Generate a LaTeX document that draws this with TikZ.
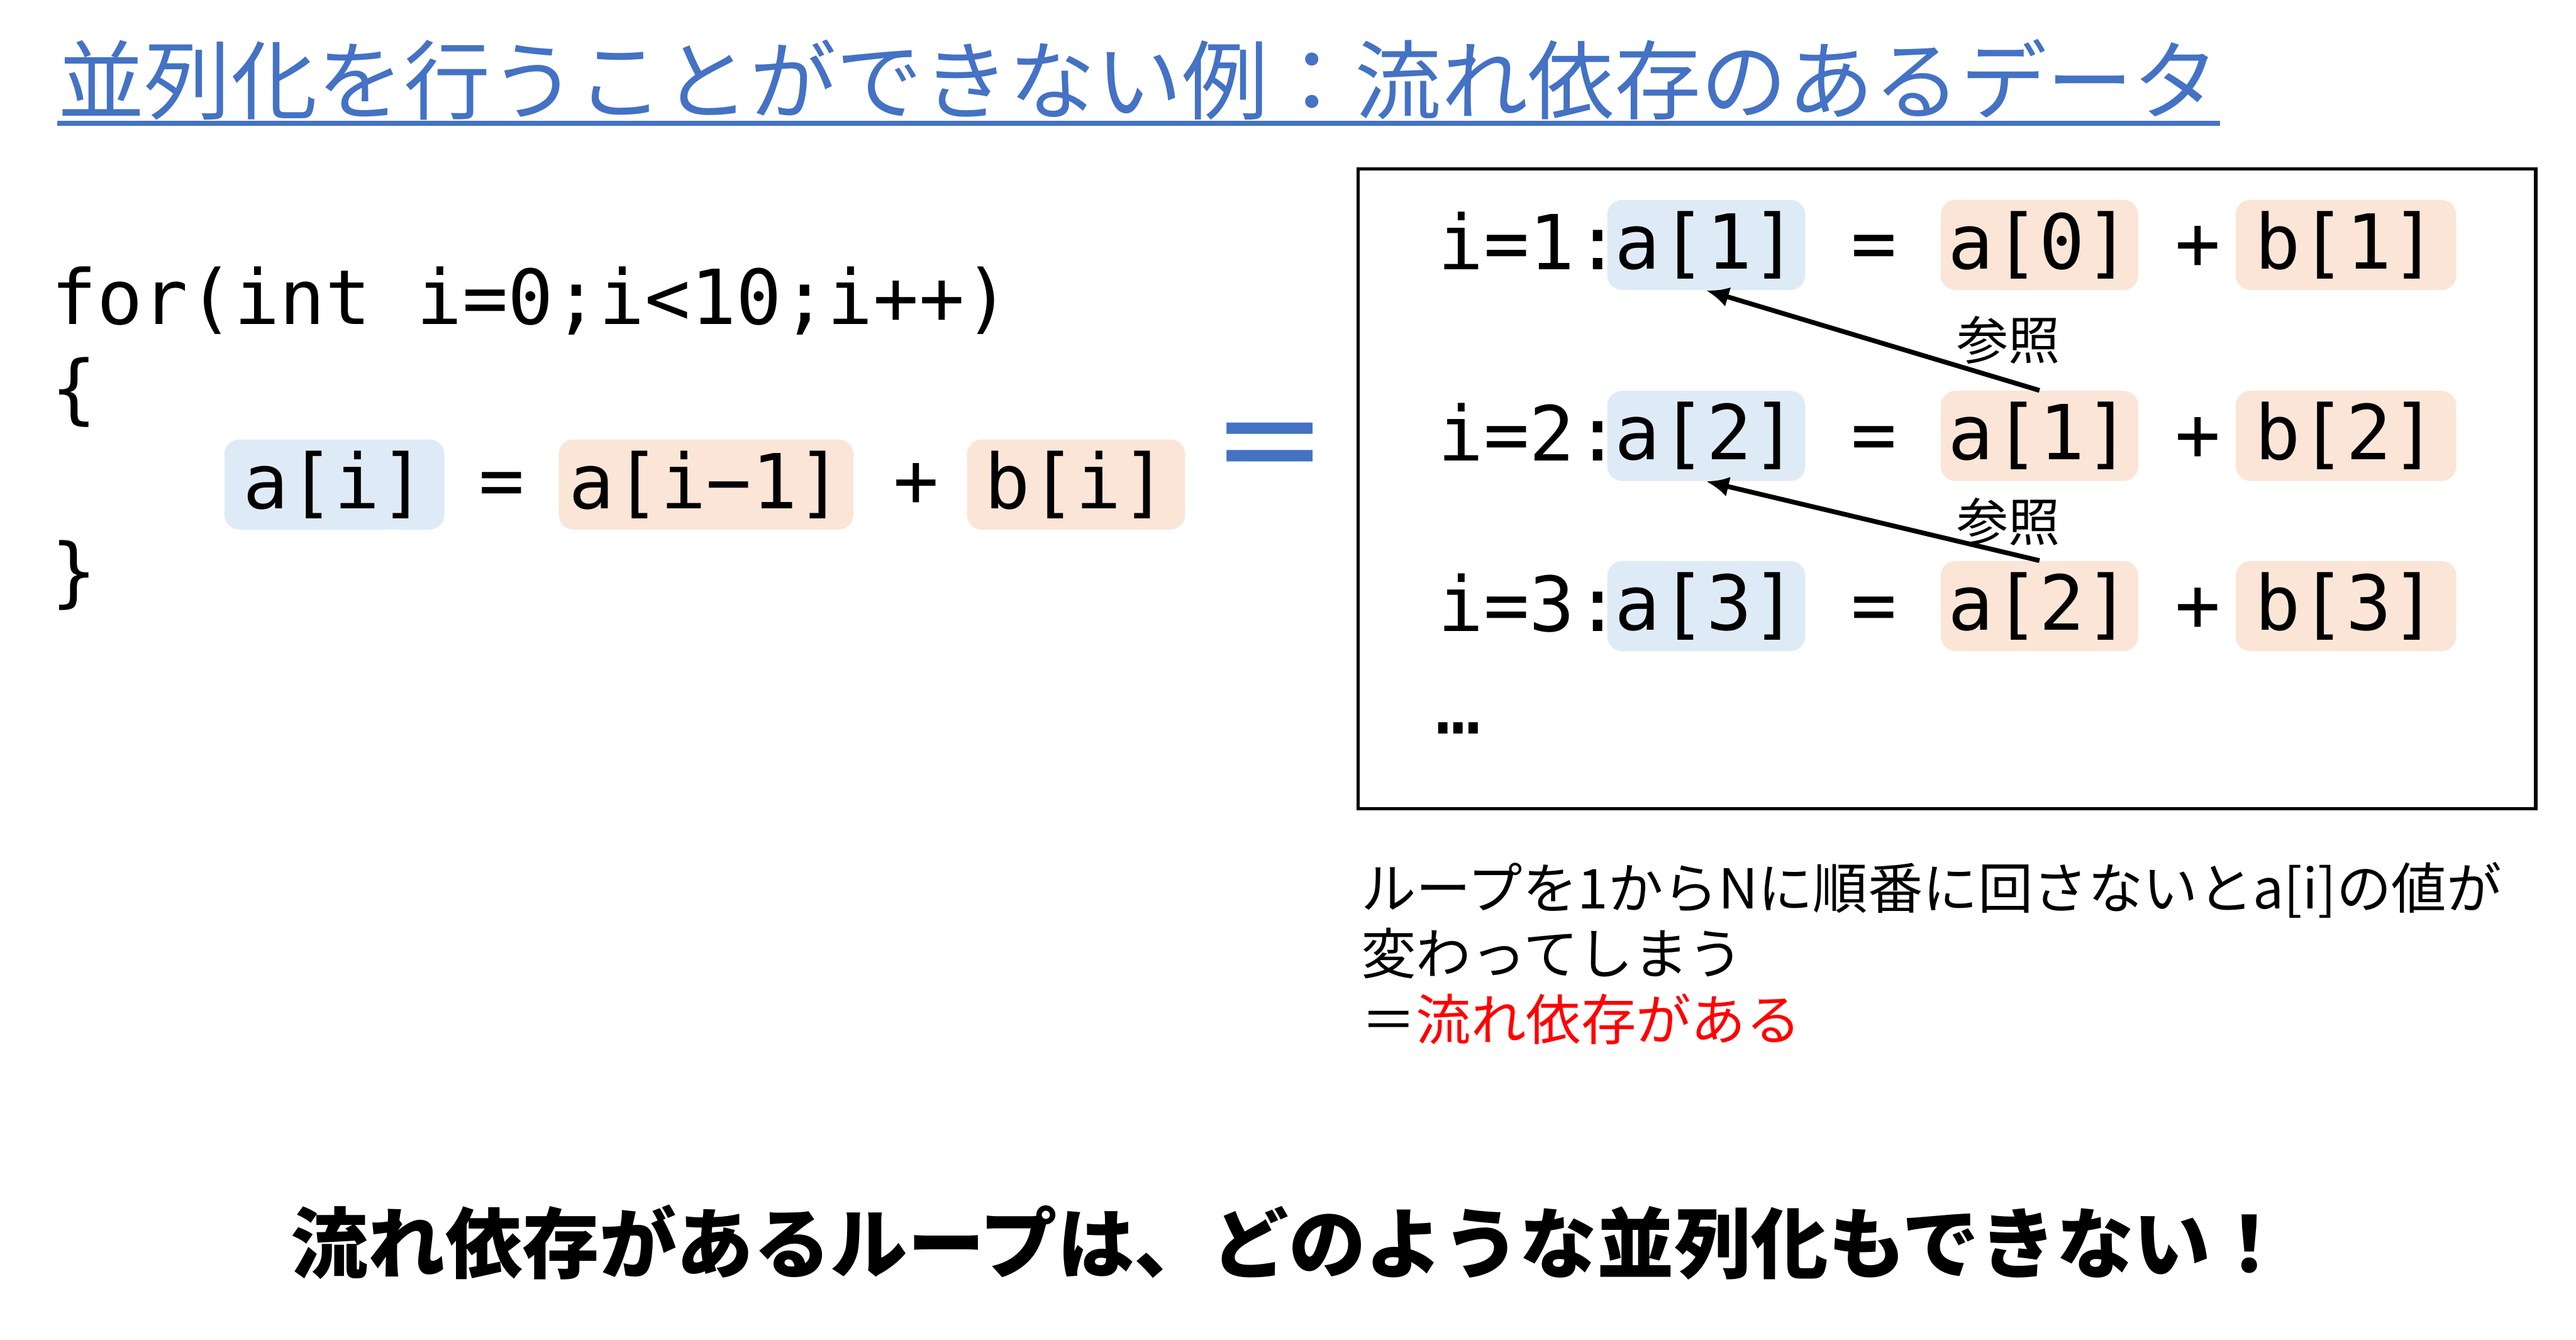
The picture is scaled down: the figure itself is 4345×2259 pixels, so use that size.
\documentclass[tikz,border=0pt]{standalone}
\usepackage{fontspec}
\usetikzlibrary{arrows.meta}
\setmainfont{Noto Sans CJK JP}
\newfontfamily\codefont{DejaVu Sans Mono}
\newfontfamily\eqfont{DejaVu Sans}
\definecolor{titleblue}{HTML}{4472C4}
\definecolor{hlblue}{HTML}{DEEBF7}
\definecolor{hlorange}{HTML}{FBE5D6}

\begin{document}
\begin{tikzpicture}[x=0.1mm,y=-0.1mm,
  code/.style={inner sep=0,anchor=base west,font=\fontsize{36.4}{40}\selectfont\codefont},
  op/.style={inner sep=0,anchor=base,font=\fontsize{36.4}{40}\selectfont\codefont},
  hl/.style={inner sep=0,rounded corners=2.5mm,minimum height=15.2mm,font=\fontsize{36.4}{40}\selectfont\codefont},
  ablue/.style={hl,fill=hlblue},
  aorange/.style={hl,fill=hlorange},
  note/.style={inner sep=0,anchor=base west,font=\fontsize{26.4}{30}\selectfont},
  reflabel/.style={inner sep=0,font=\fontsize{24.8}{28}\selectfont},
  refarrow/.style={-{Latex[length=3.8mm,width=3.4mm]},line width=0.8mm}]
  \fill[white] (0,0) rectangle (4345,2259);
  \useasboundingbox (0,0) rectangle (4345,2259);

  \node[inner sep=0,anchor=base west,text=titleblue,font=\fontsize{41.5}{45}\selectfont] (title) at (97,190)
    {並列化を行うことができない例：流れ依存のあるデータ};
  \draw[titleblue,line width=0.8mm] ([yshift=-1.8mm]title.base west) -- ([yshift=-1.8mm]title.base east);

  \node[code] (l1) at (86,547) {for(int i=0;i<10;i++)};
  \node[code] (l2) at (86,700) {\{};
  \node[ablue,minimum width=37.1mm] (ai) at (564,817) {a[i]};
  \node[op] (eq) at (846,854) {=};
  \node[aorange,minimum width=49.7mm] (aim) at (1191,817) {a[i−1]};
  \node[op] (pl) at (1545,854) {+};
  \node[aorange,minimum width=36.8mm] (bi) at (1815,817) {b[i]};
  \node[code] (l4) at (86,1008) {\}};

  \node[inner sep=0,text=titleblue,font=\fontsize{66}{70}\selectfont\eqfont] (bigeq) at (2142,766) {=};

  \draw[line width=0.55mm] (2291,285) rectangle (4277,1364);

  \node[code] (r1i) at (2425,455) {i=1:};
  \node[ablue,minimum width=33.4mm] (r1a) at (2878,413) {a[1]};
  \node[op] (r1eq) at (3161,455) {=};
  \node[aorange,minimum width=33.3mm] (r1b) at (3440,413) {a[0]};
  \node[op] (r1p) at (3707,455) {+};
  \node[aorange,minimum width=37.2mm] (r1c) at (3957,413) {b[1]};

  \node[code] (r2i) at (2425,777) {i=2:};
  \node[ablue,minimum width=33.4mm] (r2a) at (2878,735) {a[2]};
  \node[op] (r2eq) at (3161,777) {=};
  \node[aorange,minimum width=33.3mm] (r2b) at (3440,735) {a[1]};
  \node[op] (r2p) at (3707,777) {+};
  \node[aorange,minimum width=37.2mm] (r2c) at (3957,735) {b[2]};

  \node[code] (r3i) at (2425,1064) {i=3:};
  \node[ablue,minimum width=33.4mm] (r3a) at (2878,1022) {a[3]};
  \node[op] (r3eq) at (3161,1064) {=};
  \node[aorange,minimum width=33.3mm] (r3b) at (3440,1022) {a[2]};
  \node[op] (r3p) at (3707,1064) {+};
  \node[aorange,minimum width=37.2mm] (r3c) at (3957,1022) {b[3]};

  \node[code] (dots) at (2420,1237) {…};

  \draw[refarrow] (r2b.north) -- (r1a.south);
  \draw[refarrow] (r3b.north) -- (r2a.south);
  \node[reflabel] (ref1) at (3388,573) {参照};
  \node[reflabel] (ref2) at (3388,880) {参照};

  \node[note] (n1) at (2295,1532) {ループを1からNに順番に回さないとa[i]の値が};
  \node[note] (n2) at (2295,1643) {変わってしまう};
  \node[note] (n3) at (2295,1754) {＝\textcolor{red}{流れ依存がある}};

  \node[inner sep=0,anchor=base,font=\fontsize{37}{40}\selectfont\bfseries] (concl) at (2175,2145)
    {流れ依存があるループは、どのような並列化もできない！};
\end{tikzpicture}
\end{document}
